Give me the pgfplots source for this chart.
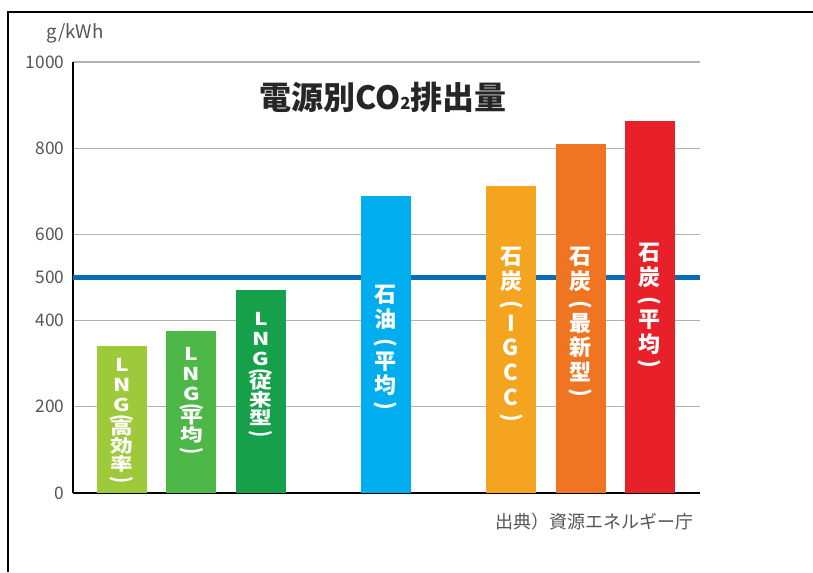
\documentclass[border=0pt]{standalone}
\usepackage{pgfplots}
\pgfplotsset{compat=1.18}
\usepackage{fontspec}
\setmainfont{Noto Sans CJK JP}

\definecolor{lngA}{HTML}{9DC93A}
\definecolor{lngB}{HTML}{4DB848}
\definecolor{lngC}{HTML}{16A04A}
\definecolor{oil}{HTML}{00AEEF}
\definecolor{coalA}{HTML}{F4A41E}
\definecolor{coalB}{HTML}{F07522}
\definecolor{coalC}{HTML}{E8202A}
\definecolor{line500}{HTML}{0A6DB3}
\definecolor{tickgray}{HTML}{555555}

% vertical-writing parentheses
\newcommand\po{\rotatebox[origin=c]{-90}{(}}
\newcommand\pc{\rotatebox[origin=c]{-90}{)}}

\begin{document}
\begin{tikzpicture}[x=0.75pt,y=0.75pt]
\path[use as bounding box] (0,0) rectangle (813,572);
\draw[line width=1.6pt] (8,0) -- (8,560) -- (813,560);

\begin{axis}[
    at={(54.75pt,59.25pt)}, anchor=south west,
    scale only axis,
    width=470.25pt, height=323.25pt,
    xmin=-0.705, xmax=8.32,
    ymin=0, ymax=1000,
    axis x line*=bottom, axis y line*=left,
    axis line style={-, line width=2.2pt, black},
    xtick=\empty,
    ytick={0,200,400,500,600,800,1000},
    major tick length=0pt,
    ymajorgrids,
    grid style={line width=1pt, color=gray!60},
    /pgf/number format/1000 sep={},
    /pgf/number format/assume math mode=true,
    yticklabel style={font=\fontsize{13}{13}\selectfont, text=tickgray, xshift=-3pt},
    clip=false,
]
\addplot[line500, line width=3.6pt] coordinates {(-0.705,500) (8.32,500)};

\addplot[ybar, bar width=37.5pt, bar shift=0pt, fill=lngA, draw=none] coordinates {(0,340)};
\addplot[ybar, bar width=37.5pt, bar shift=0pt, fill=lngB, draw=none] coordinates {(1,375)};
\addplot[ybar, bar width=37.5pt, bar shift=0pt, fill=lngC, draw=none] coordinates {(2,472)};
\addplot[ybar, bar width=37.5pt, bar shift=0pt, fill=oil, draw=none] coordinates {(3.8,690)};
\addplot[ybar, bar width=37.5pt, bar shift=0pt, fill=coalA, draw=none] coordinates {(5.6,712)};
\addplot[ybar, bar width=37.5pt, bar shift=0pt, fill=coalB, draw=none] coordinates {(6.6,810)};
\addplot[ybar, bar width=37.5pt, bar shift=0pt, fill=coalC, draw=none] coordinates {(7.6,864)};

\tikzset{
  lnglbl/.style={anchor=north, inner sep=0pt, align=center, text=white,
    font=\bfseries\fontsize{17}{17.3}\selectfont, yscale=0.78, transform shape},
  coallbl/.style={anchor=north, inner sep=0pt, align=center, text=white,
    font=\bfseries\fontsize{16.5}{18.5}\selectfont},
}
\node[lnglbl] at (axis cs:0,313) {L\\[1.9pt]N\\[1.9pt]G\\[-5.3pt]\po\\[-6.7pt]高\\効\\率\\[-2.9pt]\pc};
\node[lnglbl] at (axis cs:1,339) {L\\[1.9pt]N\\[1.9pt]G\\[-5.3pt]\po\\[-6.7pt]平\\均\\[-2.9pt]\pc};
\node[lnglbl] at (axis cs:2,420) {L\\[1.9pt]N\\[1.9pt]G\\[-5.3pt]\po\\[-6.7pt]従\\来\\型\\[-2.9pt]\pc};
\node[coallbl] at (axis cs:3.8,483) {石\\油\\[-1.5pt]\po\\[-4pt]平\\均\\[-4pt]\pc};
\node[coallbl] at (axis cs:5.6,571) {石\\炭\\[-1.5pt]\po\\[-4pt]I\\G\\C\\C\\[-4pt]\pc};
\node[coallbl] at (axis cs:6.6,571) {石\\炭\\[-1.5pt]\po\\[-4pt]最\\新\\型\\[-4pt]\pc};
\node[coallbl] at (axis cs:7.6,580) {石\\炭\\[-1.5pt]\po\\[-4pt]平\\均\\[-4pt]\pc};
\end{axis}

\node[font=\bfseries\fontsize{24}{24}\selectfont, text=black!85] at (383,475)
    {電源別CO{\fontsize{12.5}{12.5}\selectfont 2}排出量};
\node[font=\fontsize{14}{14}\selectfont, text=tickgray] at (75,539) {g/kWh};
\node[font=\fontsize{13.5}{13.5}\selectfont, text=tickgray, anchor=east] at (698,50)
    {出典）資源エネルギー庁};
\end{tikzpicture}
\end{document}
